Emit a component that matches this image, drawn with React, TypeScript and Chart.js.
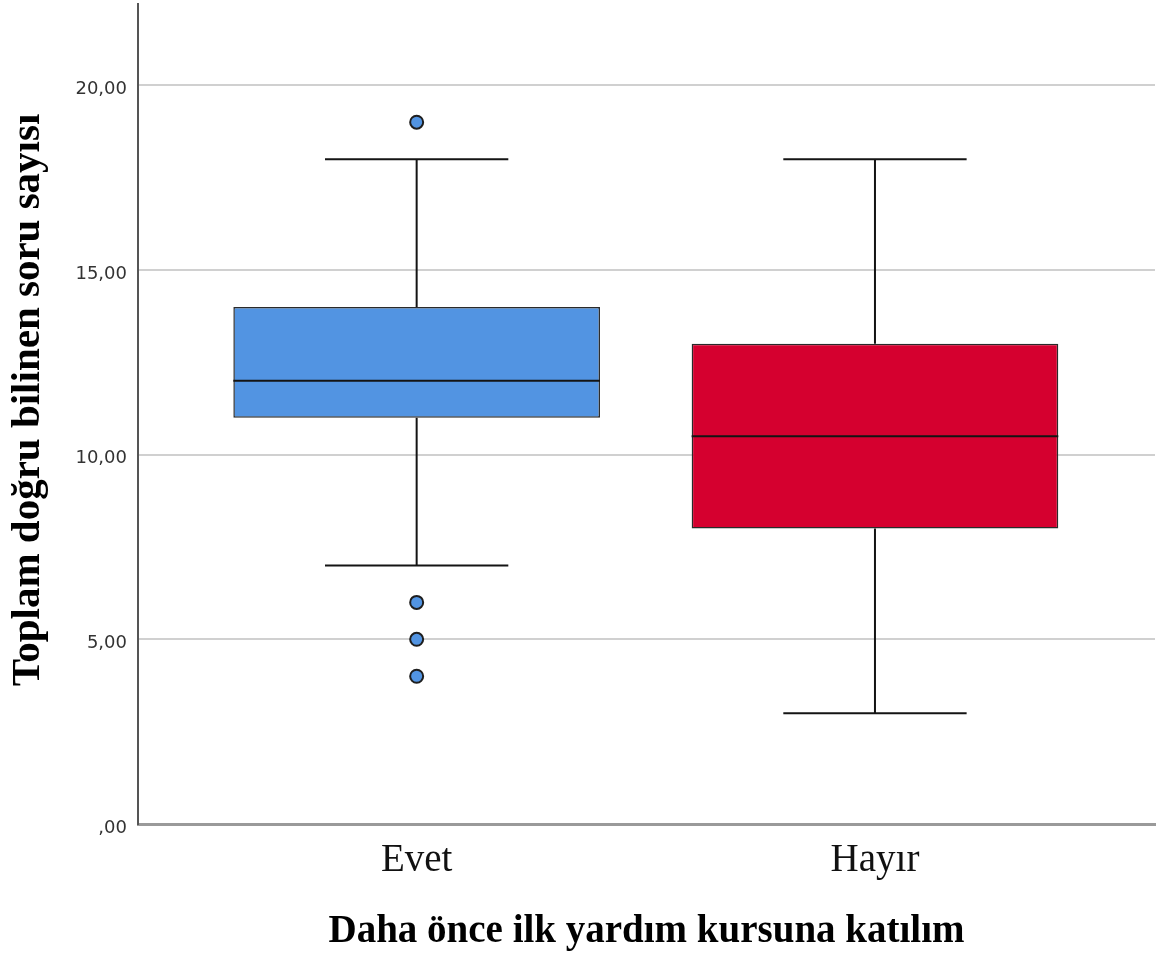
import { useEffect, useRef } from 'react';
import { Chart, registerables } from 'chart.js';

Chart.register(...registerables);

// ---- data ----
const categories = ['Evet', 'Hayır'];
const categoryPositions = [1, 2];
const q1Values = [11, 8];
const q3Values = [14, 13];
const medianValues = [12, 10.5];
const whiskerLow = [7, 3];
const whiskerHigh = [18, 18];
const outlierCategory = [1, 1, 1, 1];
const outlierValues = [19, 6, 5, 4];
const yTickValues = [0, 5, 10, 15, 20];
const boxColors = ['#5294E2', '#D5002F'];
const yTitle = 'Toplam doğru bilinen soru sayısı';
const xTitle = 'Daha önce ilk yardım kursuna katılım';

const fmtTick = (v: number) => (v === 0 ? ',00' : v.toFixed(2).replace('.', ','));

const boxWhiskerPlugin = {
  id: 'boxWhisker',
  beforeDatasetsDraw(chart: any, _args: any, opts: any) {
    const { ctx, scales } = chart;
    const x = scales.x;
    const y = scales.y;
    ctx.save();
    ctx.strokeStyle = opts.color;
    ctx.lineWidth = opts.lineWidth;
    ctx.lineCap = 'butt';
    categoryPositions.forEach((pos, i) => {
      const cx = x.getPixelForValue(pos);
      const left = x.getPixelForValue(pos - opts.capHalfWidth);
      const right = x.getPixelForValue(pos + opts.capHalfWidth);
      const yq1 = y.getPixelForValue(q1Values[i]);
      const yq3 = y.getPixelForValue(q3Values[i]);
      const ylo = y.getPixelForValue(whiskerLow[i]);
      const yhi = y.getPixelForValue(whiskerHigh[i]);
      ctx.beginPath();
      ctx.moveTo(cx, yq3);
      ctx.lineTo(cx, yhi);
      ctx.moveTo(left, yhi);
      ctx.lineTo(right, yhi);
      ctx.moveTo(cx, yq1);
      ctx.lineTo(cx, ylo);
      ctx.moveTo(left, ylo);
      ctx.lineTo(right, ylo);
      ctx.stroke();
    });
    ctx.restore();
  },
  afterDatasetsDraw(chart: any, _args: any, opts: any) {
    const { ctx, scales } = chart;
    const y = scales.y;
    const meta = chart.getDatasetMeta(0);
    ctx.save();
    ctx.strokeStyle = opts.color;
    ctx.lineWidth = opts.medianWidth;
    meta.data.forEach((bar: any, i: number) => {
      const { x, width } = bar.getProps(['x', 'width'], true);
      const ym = y.getPixelForValue(medianValues[i]);
      ctx.beginPath();
      ctx.moveTo(x - width / 2, ym);
      ctx.lineTo(x + width / 2, ym);
      ctx.stroke();
    });
    ctx.restore();
  },
};

// vertical axis title drawn as canvas text, centred slightly above the plot's middle
const yTitlePlugin = {
  id: 'yTitleText',
  afterDraw(chart: any, _args: any, opts: any) {
    const { ctx, chartArea } = chart;
    const cy = (chartArea.top + chartArea.bottom) / 2 + opts.shiftY;
    ctx.save();
    ctx.translate(opts.x, cy);
    ctx.rotate(-Math.PI / 2);
    ctx.font = opts.font;
    ctx.fillStyle = opts.color;
    ctx.textAlign = 'center';
    ctx.textBaseline = 'middle';
    ctx.fillText(opts.text, 0, 0);
    ctx.restore();
  },
};

export default function App() {
  const ref = useRef<HTMLCanvasElement | null>(null);

  useEffect(() => {
    if (!ref.current) return;
    const chart = new Chart(ref.current, {
      type: 'bar',
      data: {
        datasets: [
          {
            type: 'bar',
            label: 'box',
            data: categoryPositions.map((p, i) => ({ x: p, y: [q1Values[i], q3Values[i]] })) as any,
            backgroundColor: boxColors,
            borderColor: '#2a2a2a',
            borderWidth: 1.5,
            borderSkipped: false,
            categoryPercentage: 0.8,
            barPercentage: 1,
            order: 2,
          } as any,
          {
            type: 'scatter',
            label: 'outliers',
            data: outlierValues.map((v, i) => ({ x: outlierCategory[i], y: v })),
            backgroundColor: boxColors[0],
            borderColor: '#1e1e1e',
            borderWidth: 2,
            pointRadius: 6.5,
            order: 1,
          } as any,
        ],
      },
      options: {
        responsive: false,
        animation: false,
        devicePixelRatio: 1,
        layout: { autoPadding: false, padding: { top: 4, right: 14, left: 0, bottom: 0 } },
        plugins: {
          legend: { display: false },
          tooltip: { enabled: false },
          boxWhisker: { color: '#141414', lineWidth: 2, medianWidth: 2, capHalfWidth: 0.2 },
          yTitleText: {
            text: yTitle,
            x: 28,
            shiftY: -14,
            color: '#000',
            font: 'bold 41px "Liberation Serif", "Times New Roman", serif',
          },
        } as any,
        scales: {
          x: {
            type: 'linear',
            min: 0.392,
            max: 2.611,
            offset: false,
            grid: { display: false, drawTicks: false },
            border: { display: true, color: '#9a9a9a', width: 3 },
            afterBuildTicks: (scale: any) => {
              scale.ticks = categoryPositions.map((v) => ({ value: v }));
            },
            afterFit: (scale: any) => {
              scale.height = 132;
              scale.paddingLeft = 0;
              scale.paddingRight = 0;
            },
            ticks: {
              padding: 13,
              color: '#111',
              font: { family: '"Liberation Serif", "Times New Roman", serif', size: 39 },
              callback: (v: any) => {
                const idx = categoryPositions.indexOf(Number(v));
                return idx >= 0 ? categories[idx] : '';
              },
            },
            title: {
              display: true,
              text: xTitle,
              color: '#000',
              font: { family: '"Liberation Serif", "Times New Roman", serif', size: 39, weight: 'bold' },
              padding: { top: 0, bottom: 1 },
            },
          },
          y: {
            type: 'linear',
            min: 0,
            max: 22.2,
            grid: {
              drawTicks: false,
              lineWidth: 2,
              color: (c: any) => (c.tick && c.tick.value === 0 ? 'rgba(0,0,0,0)' : '#d0d0d0'),
            },
            border: { display: true, color: '#555', width: 2 },
            afterBuildTicks: (scale: any) => {
              scale.ticks = yTickValues.map((v) => ({ value: v }));
            },
            afterFit: (scale: any) => {
              scale.width = 138;
              scale.paddingTop = 0;
              scale.paddingBottom = 0;
            },
            ticks: {
              padding: 11,
              labelOffset: 4,
              color: '#333',
              font: { family: '"DejaVu Sans", sans-serif', size: 18 },
              callback: (v: any) => fmtTick(Number(v)),
            },
            title: { display: false },
          },
        },
      } as any,
      plugins: [boxWhiskerPlugin as any, yTitlePlugin as any],
    });
    return () => chart.destroy();
  }, []);

  return (
    <div style={{ position: 'absolute', left: 0, top: 0, width: 1169, height: 956, background: '#fff' }}>
      <canvas ref={ref} width={1169} height={956} />
    </div>
  );
}
